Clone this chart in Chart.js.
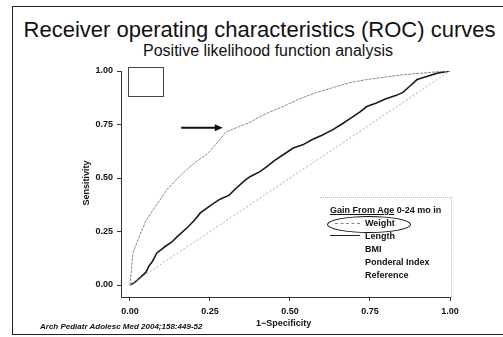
<!DOCTYPE html>
<html lang="en">
<head>
    <meta charset="UTF-8">
    <title>ROC curves</title>
    <script src="https://cdn.jsdelivr.net/npm/chart.js"></script>
    <style>
        body { margin: 0; background: #fff; font-family: "Liberation Sans", Arial, sans-serif; color: #111; }
        #wrap { position: relative; width: 503px; height: 337px; overflow: hidden; }
        #frame { position: absolute; left: 12px; top: 6px; width: 500px; height: 327px; border: 1.5px solid #222; border-right: none; }
        .txt { position: absolute; white-space: nowrap; }
        #title { left: 0; width: 519px; top: 17px; text-align: center; font-size: 22px; }
        #subtitle { left: 0; width: 536px; top: 42px; text-align: center; font-size: 16px; }
        #cite { left: 40px; top: 322px; font-size: 8px; font-weight: bold; font-style: italic; }
        #xtitle { left: 256px; top: 318px; font-size: 9px; font-weight: bold; }
        #ytitle { left: 86px; top: 183px; font-size: 9px; font-weight: bold; transform: translate(-50%, -50%) rotate(-90deg); }
        #box { position: absolute; left: 128px; top: 67px; width: 34px; height: 28px; border: 1px solid #444; }
        #legend { position: absolute; left: 320px; top: 197px; width: 131px; height: 99px; border-top: 1px dotted #bbb; border-right: 1px dotted #bbb; }
        .leg { position: absolute; left: 45px; font-size: 9px; font-weight: bold; }
        .sample { position: absolute; height: 0; }
        #ellipse { position: absolute; left: 7px; top: 18px; width: 82px; height: 15px; border: 1.5px solid #111; border-radius: 50%; }
        canvas { position: absolute; left: 0; top: 0; }
    </style>
</head>
<body>
<div id="wrap">
    <div id="frame"></div>
    <div class="txt" id="title">Receiver operating characteristics (ROC) curves</div>
    <div class="txt" id="subtitle">Positive likelihood function analysis</div>
    <div style="position:absolute;left:0;top:0;width:503px;height:337px;">
        <canvas id="roc"></canvas>
    </div>
    <div id="box"></div>
    <div id="legend">
        <div class="txt" style="left:10px;top:7px;font-size:9px;font-weight:bold;"><u>Gain From Age</u> 0-24 mo in</div>
        <div class="sample" style="left:15px;top:25px;width:25px;border-top:1px dashed #888;"></div>
        <div class="leg" style="top:20px;">Weight</div>
        <div class="sample" style="left:10px;top:37px;width:30px;border-top:1.5px solid #222;"></div>
        <div class="leg" style="top:33px;">Length</div>
        <div class="leg" style="top:46px;">BMI</div>
        <div class="leg" style="top:59px;">Ponderal Index</div>
        <div class="leg" style="top:72px;">Reference</div>
        <div id="ellipse"></div>
    </div>
    <div class="txt" id="xtitle">1&minus;Specificity</div>
    <div class="txt" id="ytitle">Sensitivity</div>
    <div class="txt" id="cite">Arch Pediatr Adolesc Med 2004;158:449-52</div>
</div>

<script>
    // tick labels
    const xTicks = [0, 0.25, 0.5, 0.75, 1];
    const yTicks = [0, 0.25, 0.5, 0.75, 1];

    // ROC curves: [1-specificity, sensitivity]
    const weightX = [0, 0.005, 0.01, 0.03, 0.05, 0.078, 0.1, 0.115, 0.15, 0.178, 0.21, 0.24, 0.27, 0.3, 0.34, 0.375, 0.406, 0.44, 0.478, 0.53, 0.584, 0.64, 0.6875, 0.74, 0.79, 0.85, 0.897, 0.95, 1];
    const weightY = [0, 0.08, 0.155, 0.23, 0.3, 0.365, 0.41, 0.445, 0.5, 0.54, 0.58, 0.61, 0.66, 0.715, 0.74, 0.76, 0.787, 0.81, 0.834, 0.87, 0.9, 0.925, 0.946, 0.96, 0.97, 0.982, 0.988, 0.995, 1];

    const lengthX = [0, 0.015, 0.031, 0.05, 0.06, 0.07, 0.084, 0.11, 0.13, 0.147, 0.18, 0.2, 0.22, 0.25, 0.28, 0.31, 0.33, 0.36, 0.375, 0.406, 0.43, 0.45, 0.48, 0.51, 0.54, 0.57, 0.6, 0.634, 0.66, 0.69, 0.72, 0.74, 0.77, 0.8, 0.83, 0.853, 0.875, 0.897, 0.93, 0.96, 1];
    const lengthY = [0, 0.012, 0.033, 0.06, 0.09, 0.11, 0.15, 0.18, 0.2, 0.225, 0.27, 0.3, 0.337, 0.37, 0.4, 0.42, 0.45, 0.49, 0.506, 0.53, 0.555, 0.58, 0.61, 0.64, 0.655, 0.68, 0.7, 0.726, 0.75, 0.78, 0.81, 0.834, 0.85, 0.87, 0.885, 0.9, 0.93, 0.96, 0.975, 0.99, 1];

    const referenceX = [0, 1];
    const referenceY = [0, 1];

    // arrow pointing at the weight curve
    const arrowX = [0.16, 0.29];
    const arrowY = 0.735;

    const toPoints = (xs, ys) => xs.map((x, i) => ({ x: x, y: ys[i] }));

    const arrowPlugin = {
        id: "arrow",
        afterDatasetsDraw(chart) {
            const ctx = chart.ctx;
            const x0 = chart.scales.x.getPixelForValue(arrowX[0]);
            const x1 = chart.scales.x.getPixelForValue(arrowX[1]);
            const y = chart.scales.y.getPixelForValue(arrowY);
            ctx.save();
            ctx.strokeStyle = "#111";
            ctx.fillStyle = "#111";
            ctx.lineWidth = 2;
            ctx.beginPath();
            ctx.moveTo(x0, y);
            ctx.lineTo(x1 - 6, y);
            ctx.stroke();
            ctx.beginPath();
            ctx.moveTo(x1, y);
            ctx.lineTo(x1 - 8, y - 3.5);
            ctx.lineTo(x1 - 8, y + 3.5);
            ctx.closePath();
            ctx.fill();
            ctx.restore();
        }
    };

    const tickFont = { family: "'Liberation Sans', Arial, sans-serif", size: 9, weight: "bold" };

    new Chart(document.getElementById("roc"), {
        type: "scatter",
        data: {
            datasets: [
                {
                    label: "Reference",
                    data: toPoints(referenceX, referenceY),
                    showLine: true,
                    borderColor: "#aaa",
                    borderWidth: 1,
                    borderDash: [2, 2],
                    pointRadius: 0,
                },
                {
                    label: "Weight",
                    data: toPoints(weightX, weightY),
                    showLine: true,
                    borderColor: "#888",
                    borderWidth: 1,
                    borderDash: [3, 1],
                    pointRadius: 0,
                },
                {
                    label: "Length",
                    data: toPoints(lengthX, lengthY),
                    showLine: true,
                    borderColor: "#1a1a1a",
                    borderWidth: 1.6,
                    pointRadius: 0,
                },
            ],
        },
        options: {
            responsive: true,
            maintainAspectRatio: false,
            animation: false,
            layout: { padding: { left: 0, right: 53, top: 71, bottom: 20 } },
            plugins: {
                legend: { display: false },
                tooltip: { enabled: false },
            },
            scales: {
                x: {
                    type: "linear",
                    min: -0.028,
                    max: 1,
                    afterBuildTicks: (scale) => { scale.ticks = xTicks.map(v => ({ value: v })); },
                    afterFit: (scale) => { scale.height = 20; },
                    ticks: {
                        font: tickFont,
                        color: "#111",
                        padding: 5,
                        maxRotation: 0,
                        callback: (v) => v.toFixed(2),
                    },
                    grid: { drawOnChartArea: false, tickLength: 4, color: "#333" },
                    border: { color: "#333", width: 1 },
                },
                y: {
                    type: "linear",
                    min: -0.056,
                    max: 1,
                    afterBuildTicks: (scale) => { scale.ticks = yTicks.map(v => ({ value: v })); },
                    afterFit: (scale) => { scale.width = 121; },
                    ticks: {
                        font: tickFont,
                        color: "#111",
                        padding: 4,
                        callback: (v) => v.toFixed(2),
                    },
                    grid: { drawOnChartArea: false, tickLength: 4, color: "#333" },
                    border: { color: "#333", width: 1 },
                },
            },
        },
        plugins: [arrowPlugin],
    });
</script>
</body>
</html>
